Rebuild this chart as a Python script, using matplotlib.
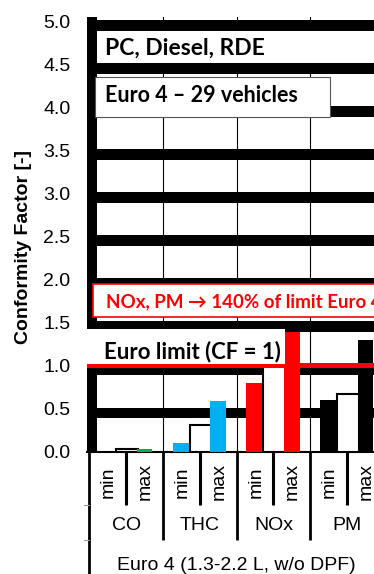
import numpy as np
import matplotlib
matplotlib.use('Agg')
import matplotlib.pyplot as plt
from matplotlib.patches import Rectangle

# Conformity factors (min / mean / max) per pollutant
categories = ['CO', 'THC', 'NOx', 'PM']
cf_min = [0.0, 0.10, 0.80, 0.60]
cf_avg = [0.03, 0.31, 0.99, 0.67]
cf_max = [0.03, 0.59, 1.39, 1.30]
bar_colors = ['#00B050', '#00B0F0', '#FF0000', '#000000']
sub_labels = ['min', 'max']
group_label = 'Euro 4 (1.3-2.2 L, w/o DPF)'
yticks = np.arange(0, 5.01, 0.5)

W, H = 374, 574
fig = plt.figure(figsize=(W / 100, H / 100), dpi=100)
fig.patch.set_facecolor('white')

# plot area: x0 at 89.4 px, one category = 73.6 px
x0_px, cat_px = 89.4, 73.6
ax_left = 87
xmin = (ax_left - x0_px) / cat_px
xmax = (W - x0_px) / cat_px
y0_px, top_px = 451.5, 16.7
ax = fig.add_axes([ax_left / W, (H - y0_px) / H, (W - ax_left) / W, (y0_px - top_px) / H])
ax.set_xlim(xmin, xmax)
ax.set_ylim(0, 5.05)

for s in ['top', 'right', 'left']:
    ax.spines[s].set_visible(False)
ax.spines['bottom'].set_linewidth(1.5)
ax.set_xticks([])
ax.set_yticks(yticks)
ax.set_yticklabels(['%.1f' % v for v in yticks], fontsize=14, family='Liberation Sans')
ax.tick_params(axis='y', length=0, pad=12)

# thin vertical separators
for i in range(1, len(categories)):
    ax.axvline(i, color='black', lw=0.8, zorder=1)
# heavy horizontal gridlines
for v in yticks[1:]:
    ax.axhspan(v - 0.115, v + 0.01, color='black', lw=0, zorder=2)
ax.axvspan(xmin, 0.103, color='black', lw=0, zorder=2)

x = np.arange(len(categories))
ax.bar(x + 0.24, cf_min, width=0.22, color=bar_colors, zorder=3)
ax.bar(x + 0.515, cf_avg, width=0.30, color='white', edgecolor='black', lw=1.5, zorder=3)
ax.bar(x + 0.75, cf_max, width=0.21, color=bar_colors, zorder=4)

# Euro limit line
ax.axhline(1.0, color='#FF0000', lw=3.6, zorder=5)

calibri = ['Lato', 'DejaVu Sans']
# text boxes
ax.add_patch(Rectangle((0.103, 4.515), 4.0, 0.37, facecolor='white', edgecolor='none', zorder=6))
ax.text(0.215, 4.605, 'PC, Diesel, RDE', fontsize=16.5, fontweight='bold', family=calibri,
        va='baseline', ha='left', zorder=7)
ax.add_patch(Rectangle((0.076, 3.88), 3.19, 0.47, facecolor='white', edgecolor='#555555', lw=0.8, zorder=6))
ax.text(0.215, 4.06, 'Euro 4 \u2013 29 vehicles', fontsize=15.5, fontweight='bold', family=calibri,
        va='baseline', ha='left', zorder=7)
ax.add_patch(Rectangle((0.05, 1.56), 4.5, 0.39, facecolor='white', edgecolor='#FF0000', lw=1.2, zorder=6))
ax.text(0.225, 1.68, 'NOx, PM \u2192 140% of limit Euro 4', fontsize=13.5, fontweight='bold',
        family=calibri, color='#FF0000', va='baseline', ha='left', zorder=7)
ax.add_patch(Rectangle((xmin, 1.02), 2.66 - xmin, 0.40, facecolor='white', edgecolor='none', zorder=6))
ax.text(0.2, 1.08, 'Euro limit (CF = 1)', fontsize=16, fontweight='bold', family=calibri,
        va='baseline', ha='left', zorder=7)

# category axis below the plot (y in pixel rows of the image)
ax2 = fig.add_axes([ax_left / W, 0, (W - ax_left) / W, (H - y0_px) / H])
ax2.set_xlim(xmin, xmax)
ax2.set_ylim(H, y0_px)
ax2.axis('off')
ax2.vlines(0.0, y0_px, H, color='black', lw=2.0)
ax2.vlines(x + 0.5, y0_px, 505, color='black', lw=2.2)
ax2.vlines(x[1:], y0_px, 540, color='black', lw=2.0)
for yy in [505, 540]:
    ax2.plot([-0.08, -0.01], [yy, yy], color='#999999', lw=0.8, clip_on=False)
for i, cat in enumerate(categories):
    ax2.text(i + 0.26, 482, sub_labels[0], rotation=90, fontsize=14, family='Liberation Sans',
             ha='center', va='center')
    ax2.text(i + 0.76, 482, sub_labels[1], rotation=90, fontsize=14, family='Liberation Sans',
             ha='center', va='center')
    ax2.text(i + 0.5, 526, cat, fontsize=14, family='Liberation Sans', ha='center', va='center')
ax2.text(2.0, 565, group_label, fontsize=14, family='Liberation Sans', ha='center', va='center')

fig.text(24 / W, 1 - 247 / H, 'Conformity Factor [-]', rotation=90, fontsize=14, fontweight='bold',
         family='Liberation Sans', ha='center', va='center')

fig.savefig('out.png', dpi=100)
